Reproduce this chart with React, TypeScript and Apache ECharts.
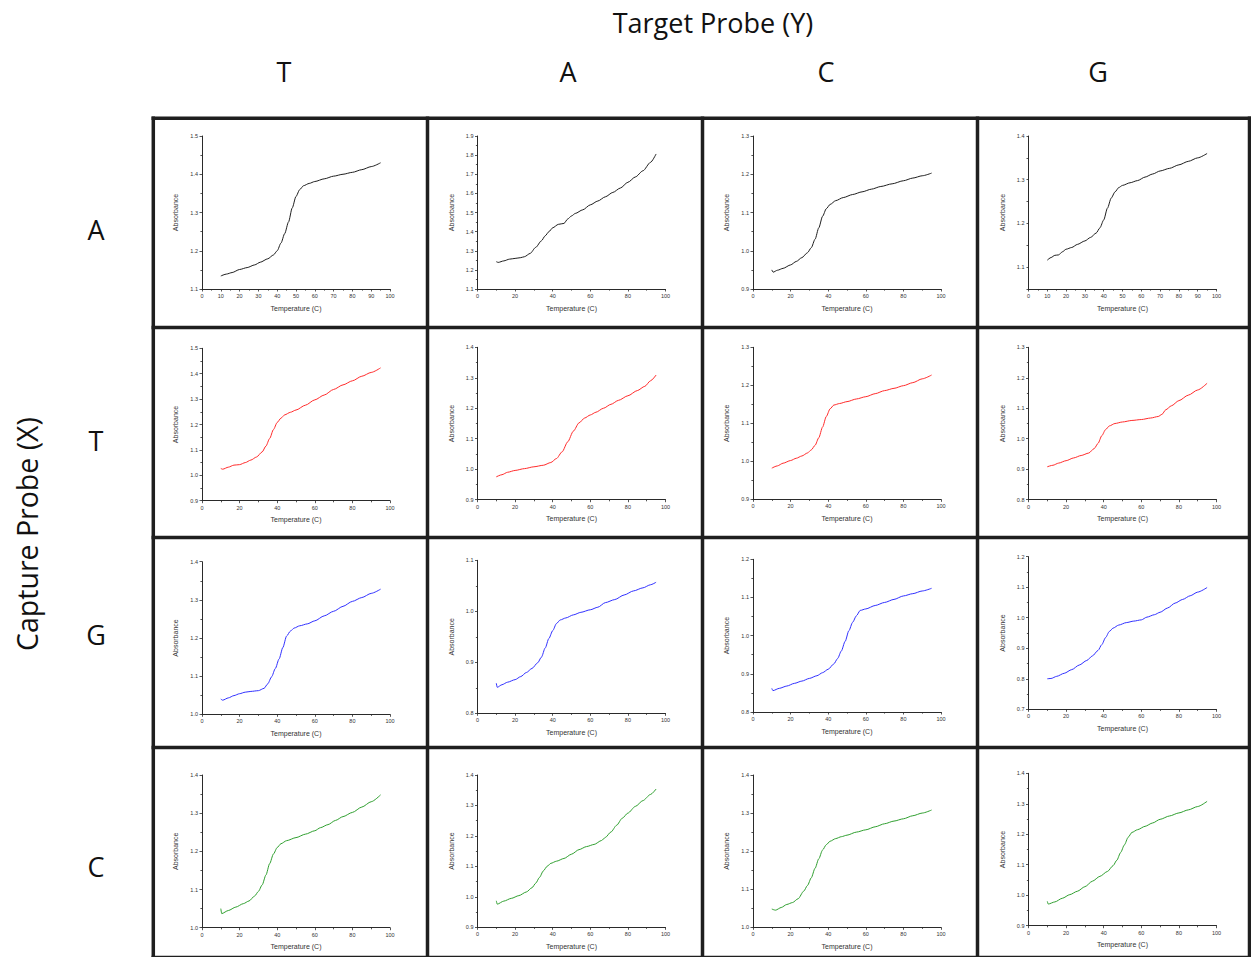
import React, { useEffect, useRef } from "react";
import * as echarts from "echarts";

// Probe labels
const targetProbes = ["T", "A", "C", "G"];
const captureProbes = ["A", "T", "G", "C"];

// Line colour for each capture-probe row
const rowColors = ["#1e1e1e", "#ff2b2b", "#3030ff", "#2f9f2f"];

// Melting curves, [temperature (C), absorbance]
// Capture probe A
const capA_tgtT = [[10,1.134],[13,1.139],[16,1.143],[20,1.151],[24,1.156],[28,1.163],[31,1.170],[35,1.179],[38,1.189],[40,1.200],[42,1.220],[44,1.245],[46,1.275],[48,1.312],[50,1.342],[52,1.360],[54,1.370],[57,1.376],[60,1.381],[65,1.388],[70,1.395],[75,1.400],[80,1.405],[85,1.412],[90,1.420],[95,1.430]];
const capA_tgtA = [[10,1.243],[11,1.239],[14,1.247],[17,1.256],[20,1.260],[23,1.264],[25,1.269],[28,1.286],[31,1.318],[34,1.352],[36,1.378],[38,1.400],[40,1.420],[43,1.438],[46,1.443],[48,1.466],[50,1.482],[52,1.495],[56,1.514],[60,1.540],[64,1.560],[68,1.582],[72,1.605],[76,1.628],[80,1.658],[84,1.686],[88,1.718],[92,1.762],[95,1.806]];
const capA_tgtC = [[10,0.950],[10.7,0.944],[13,0.949],[16,0.954],[20,0.963],[23,0.972],[26,0.982],[29,0.995],[31,1.008],[33,1.030],[35,1.060],[37,1.090],[39,1.110],[41,1.121],[44,1.131],[48,1.139],[53,1.147],[58,1.154],[63,1.161],[68,1.168],[74,1.175],[80,1.183],[85,1.190],[90,1.196],[95,1.203]];
const capA_tgtG = [[10,1.116],[12,1.122],[14,1.127],[16,1.128],[18,1.135],[20,1.141],[23,1.145],[26,1.152],[30,1.160],[33,1.168],[36,1.178],[38,1.190],[40,1.208],[42,1.235],[44,1.258],[46,1.272],[48,1.282],[50,1.287],[54,1.293],[58,1.298],[62,1.306],[66,1.313],[70,1.320],[75,1.326],[80,1.334],[85,1.342],[90,1.350],[95,1.360]];

// Capture probe T
const capT_tgtT = [[10,1.027],[11,1.024],[14,1.032],[17,1.040],[20,1.042],[23,1.050],[26,1.060],[29,1.072],[32,1.092],[34,1.115],[36,1.145],[38,1.180],[40,1.208],[42,1.225],[44,1.238],[47,1.248],[50,1.257],[55,1.276],[60,1.297],[65,1.316],[70,1.338],[75,1.356],[80,1.372],[85,1.390],[90,1.405],[95,1.423]];
const capT_tgtA = [[10,0.975],[13,0.982],[16,0.990],[20,0.996],[25,1.002],[30,1.008],[35,1.013],[39,1.022],[42,1.035],[45,1.057],[48,1.090],[51,1.125],[54,1.152],[57,1.168],[60,1.178],[63,1.187],[67,1.200],[71,1.213],[75,1.226],[80,1.241],[85,1.258],[89,1.272],[92,1.290],[95,1.309]];
const capT_tgtC = [[10,0.982],[13,0.988],[16,0.995],[20,1.002],[23,1.008],[26,1.014],[29,1.022],[31,1.030],[33,1.042],[35,1.062],[37,1.090],[39,1.118],[41,1.138],[43,1.148],[46,1.152],[50,1.157],[55,1.164],[60,1.170],[65,1.178],[70,1.186],[75,1.192],[80,1.199],[85,1.207],[90,1.217],[95,1.227]];
const capT_tgtG = [[10,0.908],[13,0.913],[16,0.920],[20,0.928],[24,0.937],[28,0.945],[32,0.953],[35,0.968],[37,0.985],[39,1.010],[41,1.030],[43,1.042],[46,1.050],[50,1.055],[55,1.060],[60,1.063],[65,1.068],[69,1.073],[71,1.080],[73,1.095],[76,1.108],[80,1.125],[85,1.143],[90,1.160],[95,1.182]];

// Capture probe G
const capG_tgtT = [[10,1.040],[11,1.037],[14,1.043],[17,1.049],[20,1.054],[23,1.058],[26,1.060],[30,1.062],[33,1.068],[35,1.080],[37,1.098],[39,1.120],[41,1.145],[43,1.175],[45,1.205],[47,1.218],[49,1.226],[52,1.232],[56,1.237],[60,1.245],[65,1.258],[70,1.270],[75,1.283],[80,1.296],[85,1.306],[90,1.317],[95,1.328]];
const capG_tgtA = [[10,0.859],[10.5,0.851],[13,0.856],[16,0.861],[20,0.866],[23,0.872],[26,0.880],[29,0.888],[32,0.899],[34,0.910],[36,0.928],[38,0.947],[40,0.962],[42,0.976],[44,0.983],[47,0.987],[51,0.993],[55,0.998],[60,1.003],[64,1.008],[68,1.017],[73,1.023],[78,1.032],[83,1.040],[88,1.046],[92,1.052],[95,1.057]];
const capG_tgtC = [[10,0.862],[10.6,0.856],[14,0.862],[18,0.868],[22,0.875],[26,0.881],[30,0.888],[34,0.895],[37,0.903],[40,0.912],[43,0.926],[45,0.940],[47,0.960],[49,0.985],[51,1.013],[53,1.035],[55,1.052],[57,1.066],[60,1.070],[65,1.079],[70,1.087],[75,1.095],[80,1.104],[85,1.110],[90,1.117],[95,1.124]];
const capG_tgtG = [[10,0.800],[12,0.801],[15,0.808],[19,0.818],[23,0.830],[27,0.845],[31,0.860],[34,0.875],[37,0.893],[39,0.912],[41,0.935],[43,0.955],[45,0.966],[48,0.976],[52,0.984],[56,0.989],[60,0.993],[63,1.002],[67,1.010],[70,1.018],[74,1.032],[78,1.048],[82,1.060],[86,1.072],[90,1.084],[95,1.099]];

// Capture probe C
const capC_tgtT = [[10,1.050],[10.5,1.037],[14,1.045],[18,1.054],[22,1.063],[25,1.070],[28,1.083],[30,1.095],[32,1.112],[34,1.138],[36,1.168],[38,1.193],[40,1.210],[42,1.220],[45,1.228],[50,1.236],[55,1.245],[60,1.254],[63,1.262],[67,1.270],[71,1.281],[75,1.291],[80,1.302],[85,1.316],[90,1.330],[95,1.348]];
const capC_tgtA = [[10,0.987],[10.5,0.976],[14,0.986],[18,0.995],[22,1.004],[26,1.016],[29,1.030],[31,1.045],[33,1.064],[35,1.085],[37,1.100],[39,1.110],[42,1.117],[46,1.126],[50,1.140],[54,1.155],[58,1.165],[62,1.172],[66,1.185],[68,1.195],[71,1.213],[74,1.235],[77,1.258],[80,1.275],[84,1.297],[88,1.316],[92,1.336],[95,1.354]];
const capC_tgtC = [[10,1.048],[12,1.045],[15,1.052],[18,1.060],[21,1.065],[24,1.075],[27,1.095],[29,1.110],[31,1.130],[33,1.155],[35,1.180],[37,1.203],[39,1.217],[41,1.226],[44,1.233],[47,1.238],[50,1.242],[55,1.250],[60,1.256],[65,1.264],[70,1.272],[75,1.279],[80,1.285],[85,1.293],[90,1.300],[95,1.308]];
const capC_tgtG = [[10,0.980],[10.5,0.971],[14,0.978],[18,0.990],[22,1.002],[26,1.013],[30,1.028],[34,1.046],[38,1.062],[42,1.078],[45,1.097],[47,1.115],[49,1.140],[51,1.165],[53,1.190],[55,1.206],[58,1.215],[62,1.226],[66,1.237],[70,1.249],[75,1.260],[80,1.270],[85,1.280],[90,1.291],[95,1.308]];

const curves = [
  [capA_tgtT, capA_tgtA, capA_tgtC, capA_tgtG],
  [capT_tgtT, capT_tgtA, capT_tgtC, capT_tgtG],
  [capG_tgtT, capG_tgtA, capG_tgtC, capG_tgtG],
  [capC_tgtT, capC_tgtA, capC_tgtC, capC_tgtG],
];

// Absorbance axis range of each panel [min, max]
const yRanges = [
  [[1.1, 1.5], [1.1, 1.9], [0.9, 1.3], [1.05, 1.4]],
  [[0.9, 1.5], [0.9, 1.4], [0.9, 1.3], [0.8, 1.3]],
  [[1.0, 1.4], [0.8, 1.1], [0.8, 1.2], [0.7, 1.2]],
  [[1.0, 1.4], [0.9, 1.4], [1.0, 1.4], [0.9, 1.4]],
];

// Temperature label step of each panel
const xSteps = [
  [10, 20, 20, 10],
  [20, 20, 20, 20],
  [20, 20, 20, 20],
  [20, 20, 20, 20],
];

// Plot-area placement (pixels)
const colAxisLeft = [202, 477.5, 753, 1028.5];
const axisWidth = 188;
const panelTops = [
  [136, 136, 136, 136],
  [348.3, 347.3, 347.3, 347.3],
  [561.7, 560.3, 559.3, 556.7],
  [775, 775, 775, 773.3],
];
const panelBottoms = [
  [289, 289, 289, 289],
  [500.7, 499.7, 499.3, 499.7],
  [714.3, 713.3, 712, 709.3],
  [927.7, 927.3, 927.3, 925.7],
];

// Table frame lines
const frameXs = [153.3, 427.5, 702.5, 977.5, 1249.5];
const frameYs = [118.3, 327.5, 537.5, 747.5, 957.5];

const colHeaderX = [284, 568, 826, 1098];
const rowHeaderY = [229, 440, 634, 866];

const W = 1251;
const H = 957;
const TITLE_FONT = "'Open Sans', 'Noto Sans', sans-serif";
const AXIS_FONT = "'Liberation Sans', Arial, sans-serif";

function buildOption() {
  const grids: any[] = [];
  const xAxes: any[] = [];
  const yAxes: any[] = [];
  const series: any[] = [];
  const labelColor = "#333333";
  const lineColor = "#2a2a2a";

  for (let r = 0; r < 4; r++) {
    for (let c = 0; c < 4; c++) {
      const i = r * 4 + c;
      const top = panelTops[r][c];
      const bottom = panelBottoms[r][c];
      grids.push({
        left: colAxisLeft[c],
        top,
        width: axisWidth,
        height: bottom - top,
        containLabel: false,
      });
      xAxes.push({
        type: "value",
        gridIndex: i,
        min: 0,
        max: 100,
        interval: xSteps[r][c],
        name: "Temperature (C)",
        nameLocation: "middle",
        nameGap: 15.5,
        nameTextStyle: { fontSize: 7, fontFamily: AXIS_FONT, color: labelColor },
        axisLine: { show: true, onZero: false, lineStyle: { color: lineColor, width: 1 } },
        axisTick: { show: true, length: 2.5, lineStyle: { color: lineColor, width: 0.8 } },
        minorTick: { show: true, splitNumber: 2, length: 1.6, lineStyle: { color: lineColor, width: 0.8 } },
        axisLabel: { fontSize: 5.5, fontFamily: AXIS_FONT, color: labelColor, margin: 4 },
        splitLine: { show: false },
        minorSplitLine: { show: false },
      });
      const [yMin, yMax] = yRanges[r][c];
      const halfStep = Math.abs(yMin * 10 - Math.round(yMin * 10)) > 1e-6;
      yAxes.push({
        type: "value",
        gridIndex: i,
        min: yMin,
        max: yMax,
        interval: halfStep ? 0.05 : 0.1,
        name: "Absorbance",
        nameLocation: "middle",
        nameGap: 23,
        nameTextStyle: { fontSize: 7, fontFamily: AXIS_FONT, color: labelColor },
        axisLine: { show: true, onZero: false, lineStyle: { color: lineColor, width: 1 } },
        axisTick: { show: true, length: halfStep ? 2 : 2.5, lineStyle: { color: lineColor, width: 0.8 } },
        minorTick: { show: !halfStep, splitNumber: 2, length: 1.6, lineStyle: { color: lineColor, width: 0.8 } },
        axisLabel: {
          fontSize: 5.5,
          fontFamily: AXIS_FONT,
          color: labelColor,
          margin: 4,
          formatter: (v: number) => {
            const t = v * 10;
            if (Math.abs(t - Math.round(t)) > 1e-6) return "";
            return v.toFixed(1);
          },
        },
        splitLine: { show: false },
        minorSplitLine: { show: false },
      });
      series.push({
        type: "line",
        xAxisIndex: i,
        yAxisIndex: i,
        data: curves[r][c],
        showSymbol: false,
        symbol: "none",
        smooth: 0.25,
        smoothMonotone: "x",
        lineStyle: { color: rowColors[r], width: 1 },
        silent: true,
      });
    }
  }

  const graphics: any[] = [];
  // table frame
  frameXs.forEach((x) => {
    graphics.push({
      type: "line",
      shape: { x1: x, y1: frameYs[0] - 1.75, x2: x, y2: H + 2 },
      style: { stroke: "#1f1f1f", lineWidth: 3.5 },
      z: 10,
    });
  });
  frameYs.forEach((y) => {
    graphics.push({
      type: "line",
      shape: { x1: frameXs[0] - 1.75, y1: y, x2: W + 2, y2: y },
      style: { stroke: "#1f1f1f", lineWidth: 3.5 },
      z: 10,
    });
  });
  // headers
  graphics.push({
    type: "text",
    x: 713,
    y: 22,
    style: {
      text: "Target Probe (Y)",
      fontSize: 27,
      fontFamily: TITLE_FONT,
      fill: "#111",
      align: "center",
      verticalAlign: "middle",
    },
  });
  targetProbes.forEach((t, c) => {
    graphics.push({
      type: "text",
      x: colHeaderX[c],
      y: 71,
      style: {
        text: t,
        fontSize: 27,
        fontFamily: TITLE_FONT,
        fill: "#111",
        align: "center",
        verticalAlign: "middle",
      },
    });
  });
  captureProbes.forEach((t, r) => {
    graphics.push({
      type: "text",
      x: 96,
      y: rowHeaderY[r],
      style: {
        text: t,
        fontSize: 27,
        fontFamily: TITLE_FONT,
        fill: "#111",
        align: "center",
        verticalAlign: "middle",
      },
    });
  });
  graphics.push({
    type: "text",
    x: 27,
    y: 534,
    rotation: Math.PI / 2,
    style: {
      text: "Capture Probe (X)",
      fontSize: 28.5,
      fontFamily: TITLE_FONT,
      fill: "#111",
      align: "center",
      verticalAlign: "middle",
    },
  });

  return {
    animation: false,
    backgroundColor: "#ffffff",
    grid: grids,
    xAxis: xAxes,
    yAxis: yAxes,
    series,
    graphic: graphics,
  };
}

export default function App() {
  const ref = useRef<HTMLDivElement>(null);
  useEffect(() => {
    if (!ref.current) return;
    const chart = echarts.init(ref.current, undefined, { renderer: "svg", width: W, height: H });
    chart.setOption(buildOption());
    return () => chart.dispose();
  }, []);
  return (
    <div
      ref={ref}
      style={{ position: "fixed", left: 0, top: 0, width: W, height: H, background: "#fff" }}
    />
  );
}
